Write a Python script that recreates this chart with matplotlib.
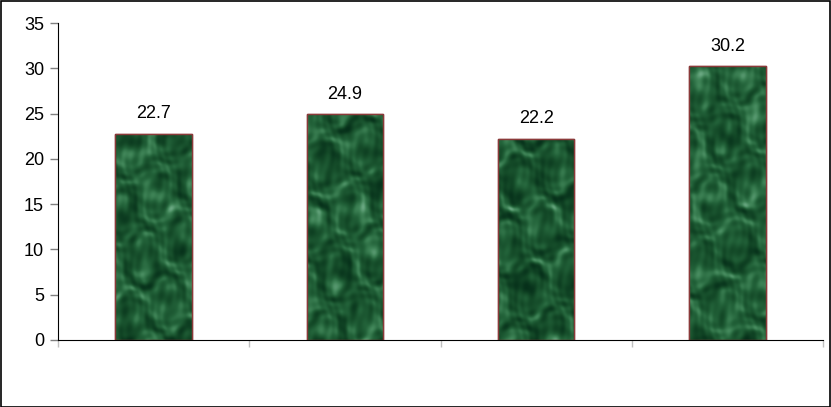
import numpy as np
import matplotlib
matplotlib.use("Agg")
import matplotlib.pyplot as plt
from matplotlib.patches import Rectangle
from matplotlib.colors import LinearSegmentedColormap

categories = ["A", "B", "C", "D"]
values = [22.7, 24.9, 22.2, 30.2]
yticks = [0, 5, 10, 15, 20, 25, 30, 35]

plt.rcParams['font.family'] = ['Liberation Sans', 'DejaVu Sans']

fig = plt.figure(figsize=(8.31, 4.07), dpi=100)
ax = fig.add_axes([58/831, 1-340/407, (823-58)/831, (340-23)/407])

x = np.arange(len(categories))
bars = ax.bar(x, values, width=0.4, color='#1f5a33', edgecolor='#8b3a3a', linewidth=1.0, zorder=2)

# marble-like texture (deterministic trigonometric pattern), clipped to each bar
cmap = LinearSegmentedColormap.from_list('marble', ['#06301a', '#144a28', '#23633a', '#3f8457', '#6aa882'])
angles = [0.3, 1.1, 1.9, 2.6, 0.75, 2.2, 1.45, 0.1]
freqs = [0.9, 1.3, 1.7, 2.3, 3.1, 4.3, 5.9, 8.1]
for i, b in enumerate(bars):
    x0, w, h = b.get_x(), b.get_width(), b.get_height()
    gx, gy = np.meshgrid(np.linspace(0, 7.6, 80), np.linspace(0, 3.2 * h / 3.5, int(10 * h)))
    warp = np.sin(gx * 1.3 + gy * 0.7 + i) + np.cos(gy * 1.1 - gx * 0.5 + 2 * i)
    tex = np.zeros_like(gx)
    for k, (a, f) in enumerate(zip(angles, freqs)):
        tex += np.sin(f * (gx * np.cos(a) + gy * np.sin(a)) + 1.7 * warp + k * 1.3 + i * 0.9) / (1 + 0.3 * k)
    tex = (tex - tex.min()) / (tex.max() - tex.min())
    tex = tex ** 1.3
    im = ax.imshow(tex[::-1], extent=[x0, x0 + w, 0, h], cmap=cmap, aspect='auto', zorder=2.5,
                   interpolation='bilinear')
    im.set_clip_path(b)
    ax.add_patch(Rectangle((x0, 0), w, h, fill=False, edgecolor='#8b3a3a', linewidth=1.0, zorder=3))

for xi, v in zip(x, values):
    ax.annotate(f"{v}", (xi, v), xytext=(0, 11.5), textcoords='offset points',
                ha='center', va='baseline', fontsize=13, color='black')

ax.set_xlim(-0.5, len(categories) - 0.5)
ax.set_ylim(0, 35)
ax.set_yticks(yticks)
ax.set_yticklabels([str(t) for t in yticks], fontsize=13)
ax.set_xticks(np.arange(len(categories) + 1) - 0.5)
ax.set_xticklabels([])
ax.tick_params(axis='x', direction='out', length=5, color='#c0c0c0', width=1)
ax.tick_params(axis='y', direction='out', length=6, color='#808080', width=1, pad=4)
for s in ['top', 'right']:
    ax.spines[s].set_visible(False)
ax.spines['left'].set_color('black')
ax.spines['bottom'].set_color('black')
ax.spines['bottom'].set_zorder(4)

fig.patches.append(Rectangle((0.5 / 831, 0.5 / 407), 1 - 1.5 / 831, 1 - 1.5 / 407, transform=fig.transFigure,
                             fill=False, edgecolor='black', linewidth=1.2))

fig.savefig("out.png", dpi=100)
